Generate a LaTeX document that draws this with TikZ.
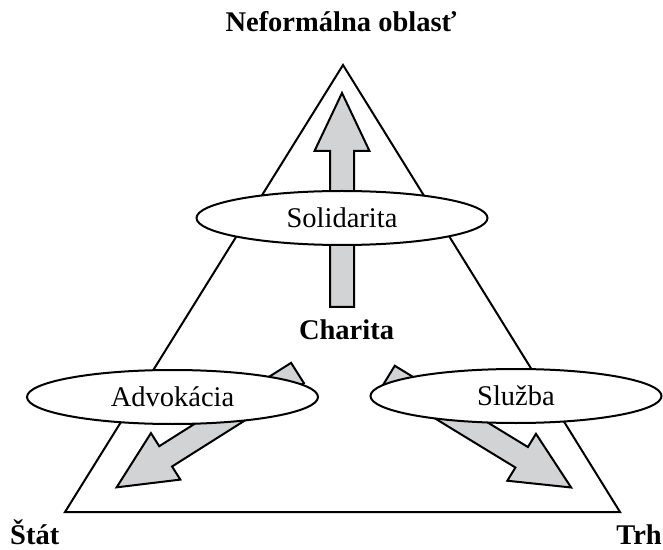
\documentclass[tikz,border=0pt]{standalone}
\usepackage{fontspec}
\setmainfont{Liberation Serif}
\usetikzlibrary{shapes.geometric}
\definecolor{arrowgray}{RGB}{210,211,213}
\tikzset{
  frame/.style={line width=2pt, line join=miter},
  fatarrow/.style={draw=black, fill=arrowgray, line width=2pt, line join=miter},
  oval/.style={ellipse, draw=black, fill=white, line width=2pt, minimum width=291pt, minimum height=54pt, inner sep=0pt, font=\fontsize{28.5}{30}\selectfont},
  title/.style={font=\fontsize{28.5}{30}\selectfont\bfseries, inner sep=0pt}
}
\newcommand{\fatarrowpath}{(0,-12) -- (156,-12) -- (156,-27.5) -- (214,0) -- (156,27.5) -- (156,12) -- (0,12) -- cycle}
\begin{document}
\begin{tikzpicture}[x=1pt,y=1pt]
\useasboundingbox (0,0) rectangle (663,549);
% triangle
\coordinate (top) at (343,484);
\coordinate (bl) at (65,37);
\coordinate (br) at (620,37);
\draw[frame] (top) -- (bl) -- (br) -- cycle;
% arrows
\begin{scope}[shift={(342,242)}, rotate=90]
  \draw[fatarrow] \fatarrowpath;
\end{scope}
\begin{scope}[shift={(297.5,176)}, rotate=212.3]
  \draw[fatarrow] \fatarrowpath;
\end{scope}
\begin{scope}[shift={(388.5,173)}, rotate=-31.4]
  \draw[fatarrow] \fatarrowpath;
\end{scope}
% ellipses
\node[oval] (sol) at (342,331) {Solidarita};
\node[oval] (adv) at (172.5,152) {Advokácia};
\node[oval] (slu) at (516,153) {Služba};
% labels
\node[title, anchor=base] (nef) at (341,517) {Neformálna oblasť};
\node[title, anchor=base] (cha) at (346.5,209) {Charita};
\node[title, anchor=base west] (sta) at (10,5) {Štát};
\node[title, anchor=base east] (trh) at (662,5) {Trh};
\end{tikzpicture}
\end{document}
